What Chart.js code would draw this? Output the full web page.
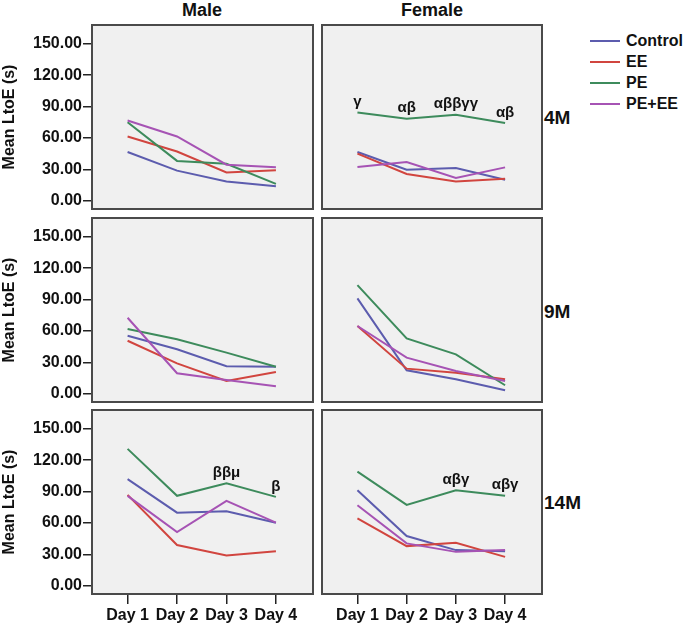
<!DOCTYPE html>
<html>
<head>
<meta charset="utf-8">
<script src="https://cdn.jsdelivr.net/npm/chart.js@4.4.0/dist/chart.umd.min.js"></script>
<style>
  body { margin: 0; background: #fff; width: 685px; height: 628px; position: relative; overflow: hidden;
         font-family: "Liberation Sans", Arial, sans-serif; font-weight: bold; color: #111; }
  canvas { position: absolute; }
  .lbl { position: absolute; white-space: nowrap; }
  .col-title { font-size: 18px; top: 0px; width: 220px; text-align: center; }
  .row-title { font-size: 19px; left: 544px; }
  .legend { position: absolute; left: 590px; top: 30px; font-size: 16px; }
  .legend div { height: 21px; display: flex; align-items: center; }
  .legend .sw { width: 30px; height: 2px; margin-right: 6px; display: inline-block; }
</style>
</head>
<body>
<div class="lbl col-title" style="left:92px">Male</div>
<div class="lbl col-title" style="left:322px">Female</div>
<div class="lbl row-title" style="top:107px">4M</div>
<div class="lbl row-title" style="top:301px">9M</div>
<div class="lbl row-title" style="top:492px">14M</div>
<div class="legend" id="legend"></div>

<canvas id="m4"></canvas>
<canvas id="f4"></canvas>
<canvas id="m9"></canvas>
<canvas id="f9"></canvas>
<canvas id="m14"></canvas>
<canvas id="f14"></canvas>

<script>
const days = ['Day 1', 'Day 2', 'Day 3', 'Day 4'];
const dayPos = [1, 2, 3, 4];
const groups = ['Control', 'EE', 'PE', 'PE+EE'];
const groupColors = ['#5c5cae', '#d1453f', '#3d8b5c', '#a653b4'];
const yTicks = [0, 30, 60, 90, 120, 150];

// series per panel, in group order: Control, EE, PE, PE+EE
const male4M = [[46.5, 28.7, 18.4, 13.7], [61.4, 47, 27, 29], [75, 38, 35.3, 16], [76.7, 61.4, 34.4, 32]];
const female4M = [[46.5, 29.6, 31.2, 20], [44.9, 25.5, 18.4, 21], [84.4, 78.3, 82.1, 74.2], [32.2, 37, 21.7, 31.8]];
const male9M = [[55.4, 42.4, 26.2, 25.8], [50.6, 29, 12.1, 20.7], [61.8, 52, 39.2, 25.8], [72.6, 19.5, 13.1, 7]];
const female9M = [[91.1, 22.3, 13.7, 3.2], [64.7, 23.9, 20, 13.7], [103.8, 52.9, 37.6, 8], [64.7, 34.4, 21.7, 12.1]];
const male14M = [[101.9, 69.8, 71.1, 60.2], [86.8, 38.8, 28.8, 33], [130.8, 85.9, 98, 84.9], [85.9, 51.3, 81, 60.2]];
const female14M = [[91.3, 47.4, 34, 33], [64.4, 37.8, 41, 27.5], [109, 77.2, 91.3, 85.9], [76.9, 40.4, 32.3, 34]];

// significance marks above the PE line, one per day
const female4MNotes = ['γ', 'αβ', 'αββγγ', 'αβ'];
const male14MNotes = ['', '', 'ββμ', 'β'];
const female14MNotes = ['', '', 'αβγ', 'αβγ'];

const FONT = '"Liberation Sans", Arial, sans-serif';
Chart.defaults.font.family = FONT;
Chart.defaults.color = '#111';

// legend
const legendBox = document.getElementById('legend');
groups.forEach((g, i) => {
    const row = document.createElement('div');
    row.innerHTML = `<span class="sw" style="background:${groupColors[i]}"></span>${g}`;
    legendBox.appendChild(row);
});

const panelFrame = {
    id: 'panelFrame',
    beforeDraw(chart) {
        const a = chart.chartArea, ctx = chart.ctx;
        ctx.save();
        ctx.fillStyle = '#f0f0f0';
        ctx.fillRect(a.left, a.top, a.right - a.left, a.bottom - a.top);
        ctx.restore();
    },
    afterDraw(chart) {
        const a = chart.chartArea, ctx = chart.ctx;
        ctx.save();
        ctx.strokeStyle = '#4a4a4a';
        ctx.lineWidth = 2;
        ctx.strokeRect(a.left, a.top, a.right - a.left, a.bottom - a.top);
        ctx.restore();
    }
};

const notesPlugin = {
    id: 'notes',
    afterDatasetsDraw(chart, args, opts) {
        if (!opts.labels) return;
        const ctx = chart.ctx;
        const pe = chart.data.datasets[2].data;
        ctx.save();
        ctx.font = 'bold 15px ' + FONT;
        ctx.fillStyle = '#111';
        ctx.textAlign = 'center';
        ctx.textBaseline = 'bottom';
        opts.labels.forEach((t, i) => {
            if (!t) return;
            const x = chart.scales.x.getPixelForValue(dayPos[i]);
            const y = chart.scales.y.getPixelForValue(pe[i].y);
            ctx.fillText(t, x, y - 3);
        });
        ctx.restore();
    }
};

function buildPanel(id, series, notes, col, row) {
    const canvas = document.getElementById(id);
    const rowTop = [25, 218, 410];
    const showY = col === 0;
    const showX = row === 2;
    const w = col === 0 ? 314 : 222;
    const h = showX ? 219 : 186;
    canvas.width = w;
    canvas.height = h;
    canvas.style.left = (col === 0 ? 0 : 321) + 'px';
    canvas.style.top = (rowTop[row] - 1) + 'px';

    new Chart(canvas, {
        type: 'line',
        data: {
            datasets: groups.map((g, i) => ({
                label: g,
                data: series[i].map((v, k) => ({ x: dayPos[k], y: v })),
                borderColor: groupColors[i],
                borderWidth: 2,
                pointRadius: 0,
                tension: 0,
                order: groups.length - i
            }))
        },
        options: {
            responsive: false,
            animation: false,
            devicePixelRatio: 1,
            layout: { padding: { left: col === 0 ? 0 : 1, right: 1, top: 1, bottom: showX ? 0 : 1 } },
            plugins: {
                legend: { display: false },
                tooltip: { enabled: false },
                notes: { labels: notes }
            },
            scales: {
                x: {
                    type: 'linear',
                    display: showX,
                    min: 0.28,
                    max: 4.75,
                    afterBuildTicks: s => { s.ticks = dayPos.map(v => ({ value: v })); },
                    afterFit: s => {
                        s.height = showX ? 34 : 0;
                        s.paddingLeft = 0;
                        s.paddingRight = 0;
                    },
                    border: { display: false },
                    grid: { drawOnChartArea: false, tickLength: 10, color: '#222', lineWidth: 1.5 },
                    ticks: {
                        autoSkip: false, maxRotation: 0, padding: 2,
                        font: { size: 16, weight: 'bold' },
                        callback: v => days[dayPos.indexOf(v)]
                    }
                },
                y: {
                    display: showY,
                    min: -8,
                    max: 168,
                    afterBuildTicks: s => { s.ticks = yTicks.map(v => ({ value: v })); },
                    afterFit: s => {
                        s.width = showY ? 92 : 0;
                        s.paddingTop = 0;
                        s.paddingBottom = 0;
                    },
                    border: { display: false },
                    grid: { drawOnChartArea: false, tickLength: 9, color: '#222', lineWidth: 1.5 },
                    ticks: {
                        padding: 1,
                        font: { size: 16, weight: 'bold' },
                        callback: v => v.toFixed(2)
                    },
                    title: {
                        display: true,
                        text: 'Mean LtoE (s)',
                        font: { size: 16, weight: 'bold' },
                        padding: 0
                    }
                }
            }
        },
        plugins: [panelFrame, notesPlugin]
    });
}

buildPanel('m4', male4M, null, 0, 0);
buildPanel('f4', female4M, female4MNotes, 1, 0);
buildPanel('m9', male9M, null, 0, 1);
buildPanel('f9', female9M, null, 1, 1);
buildPanel('m14', male14M, male14MNotes, 0, 2);
buildPanel('f14', female14M, female14MNotes, 1, 2);
</script>
</body>
</html>
